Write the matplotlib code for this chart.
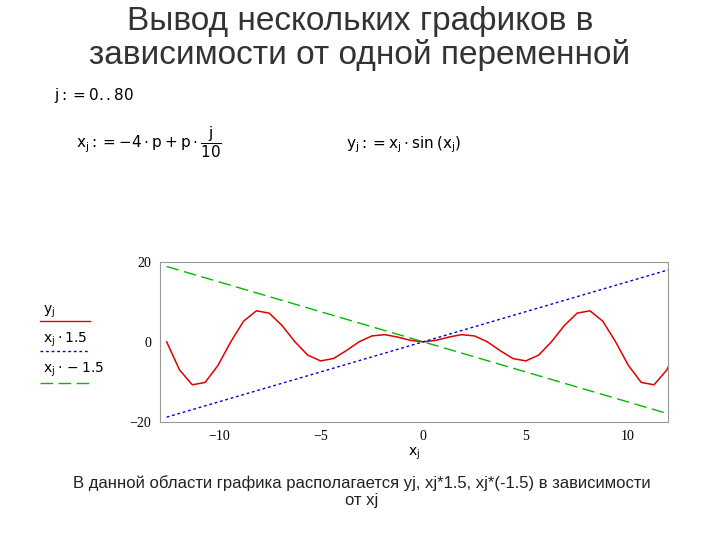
import matplotlib.pyplot as plt

# x_j = -4*pi + pi*j/10 sampled every second j, y = x*sin(x)
xs = [-12.566, -11.938, -11.310, -10.681, -10.053, -9.425, -8.796, -8.168, -7.540, -6.912,
      -6.283, -5.655, -5.027, -4.398, -3.770, -3.142, -2.513, -1.885, -1.257, -0.628, 0.0]
ys = [0.0, -7.017, -10.757, -10.159, -5.909, 0.0, 5.170, 7.769, 7.171, 4.063,
      0.0, -3.324, -4.781, -4.183, -2.216, 0.0, 1.477, 1.793, 1.195, 0.369, 0.0]
x = xs + [-v for v in reversed(xs[:-1])]
y = ys + list(reversed(ys[:-1]))
y_up = [v * 1.5 for v in x]
y_down = [v * -1.5 for v in x]

xticks = [-10, -5, 0, 5, 10]
yticks = [-20, 0, 20]

fig = plt.figure(figsize=(7.2, 5.4), dpi=100)
fig.text(0.5, 0.988, "Вывод нескольких графиков в\nзависимости от одной переменной",
         ha="center", va="top", fontsize=24, family="Liberation Sans", linespacing=1.08,
         color="#333333")

fig.text(0.075, 0.815, r"$\mathrm{j := 0 .. 80}$", fontsize=11)
fig.text(0.105, 0.725, r"$\mathrm{x_j := -4 \cdot p + p \cdot \dfrac{j}{10}}$", fontsize=11)
fig.text(0.48, 0.725, r"$\mathrm{y_j := x_j \cdot \sin\left(x_j\right)}$", fontsize=11)

ax = fig.add_axes([0.222, 0.219, 0.706, 0.296])
ax.plot(x, y, color="#e00000", lw=1.1)
ax.plot(x, y_up, color="#0000cc", lw=1.0, ls=(0, (2, 2)))
ax.plot(x, y_down, color="#00bb00", lw=1.0, ls=(0, (9, 4)))
ax.set_xlim(-12.9, 12.0)
ax.set_ylim(-20, 20)
ax.set_xticks(xticks)
ax.set_yticks(yticks)
ax.set_xticklabels(["−10", "−5", "0", "5", "10"])
ax.set_yticklabels(["−20", "0", "20"])
ax.tick_params(length=0, labelsize=10, pad=6)
for lab in ax.get_xticklabels() + ax.get_yticklabels():
    lab.set_family("Liberation Serif")
for s in ax.spines.values():
    s.set_color("#999999")
    s.set_linewidth(0.8)
ax.set_xlabel(r"$\mathrm{x_j}$", fontsize=10, labelpad=2)

# legend-like labels at left
fig.text(0.06, 0.42, r"$\mathrm{y_j}$", fontsize=10)
fig.lines.append(plt.Line2D([0.055, 0.125], [0.405, 0.405], color="#e00000", lw=1, transform=fig.transFigure))
fig.text(0.06, 0.365, r"$\mathrm{x_j \cdot 1.5}$", fontsize=10)
fig.lines.append(plt.Line2D([0.055, 0.125], [0.35, 0.35], color="#0000cc", lw=1, ls=(0, (2, 2)), transform=fig.transFigure))
fig.text(0.06, 0.31, r"$\mathrm{x_j \cdot -1.5}$", fontsize=10)
fig.lines.append(plt.Line2D([0.055, 0.125], [0.29, 0.29], color="#00bb00", lw=1, ls=(0, (9, 4)), transform=fig.transFigure))

fig.text(0.502, 0.09, "В данной области графика располагается yj, xj*1.5, xj*(-1.5) в зависимости\nот xj",
         ha="center", va="center", fontsize=12, family="Liberation Sans", linespacing=1.15,
         color="#222222")

fig.savefig("out.png", dpi=100)
